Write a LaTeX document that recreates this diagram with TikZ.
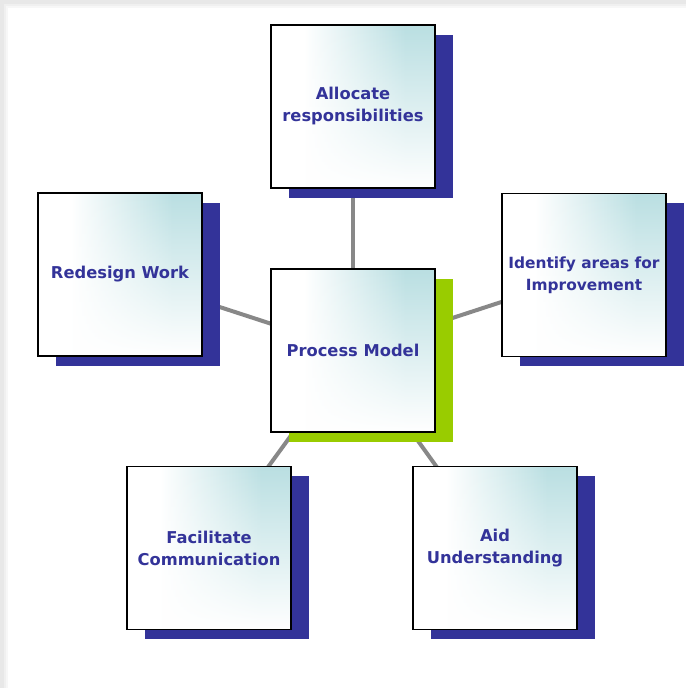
\documentclass[tikz,border=0pt]{standalone}
\usepackage{fontspec}
\setmainfont{DejaVu Sans}
\usetikzlibrary{backgrounds,fadings}
\definecolor{navy}{RGB}{51,51,153}
\definecolor{lime}{RGB}{153,204,0}
\definecolor{tealish}{RGB}{186,223,226}
\definecolor{linegrey}{RGB}{136,136,136}
\pgfdeclarelayer{bottom}
\pgfsetlayers{bottom,background,main}
\pgfdeclarehorizontalshading{cardh}{100bp}{color(0bp)=(white); color(25bp)=(white); color(35bp)=(white); color(66bp)=(tealish); color(75bp)=(tealish); color(100bp)=(tealish)}
\tikzfading[name=fadebot, top color=transparent!100, middle color=transparent!100, bottom color=transparent!0]
\tikzset{
  card/.style={minimum width=164pt, minimum height=163pt, inner sep=0pt,
    shading=cardh,
    postaction={fill=white, path fading=fadebot},
    postaction={draw=black, line width=1.5pt},
    align=center, text=navy, font=\fontsize{16.3}{22}\selectfont\bfseries},
  link/.style={draw=linegrey, line width=4pt}
}
\begin{document}
\begin{tikzpicture}[x=1pt,y=-1pt]
\useasboundingbox (0,0) rectangle (686,688);
\begin{pgfonlayer}{bottom}
\fill[black!9] (0,0) rectangle (686,688);
\fill[black!6] (4,4) rectangle (686,688);
\fill[black!3] (6,6) rectangle (686,688);
\fill[white] (8,8) rectangle (686,688);
\end{pgfonlayer}
% shadows
\fill[navy] (289,34.5) rectangle ++(164,163);
\fill[lime] (289,278.5) rectangle ++(164,163);
\fill[navy] (56,202.5) rectangle ++(164,163);
\fill[navy] (520,202.5) rectangle ++(164,163);
\fill[navy] (145,475.5) rectangle ++(164,163);
\fill[navy] (431,475.5) rectangle ++(164,163);
% boxes
\node[card] (alloc) at (353,106.5) {Allocate\\responsibilities};
\node[card] (proc) at (353,350.5) {Process Model};
\node[card] (redes) at (120,274.5) {Redesign Work};
\node[card, font=\fontsize{15.4}{22}\selectfont\bfseries] (ident) at (584,275) {Identify areas for\\Improvement};
\node[card] (facil) at (209,548) {Facilitate\\Communication};
\node[card] (aid) at (495,548) {Aid\\Understanding};
\begin{pgfonlayer}{background}
\draw[link] (proc.center) -- (alloc.center);
\draw[link] (proc.center) -- (redes.center);
\draw[link] (proc.center) -- (ident.center);
\draw[link] (proc.center) -- (facil.center);
\draw[link] (proc.center) -- (aid.center);
\end{pgfonlayer}
\end{tikzpicture}
\end{document}
